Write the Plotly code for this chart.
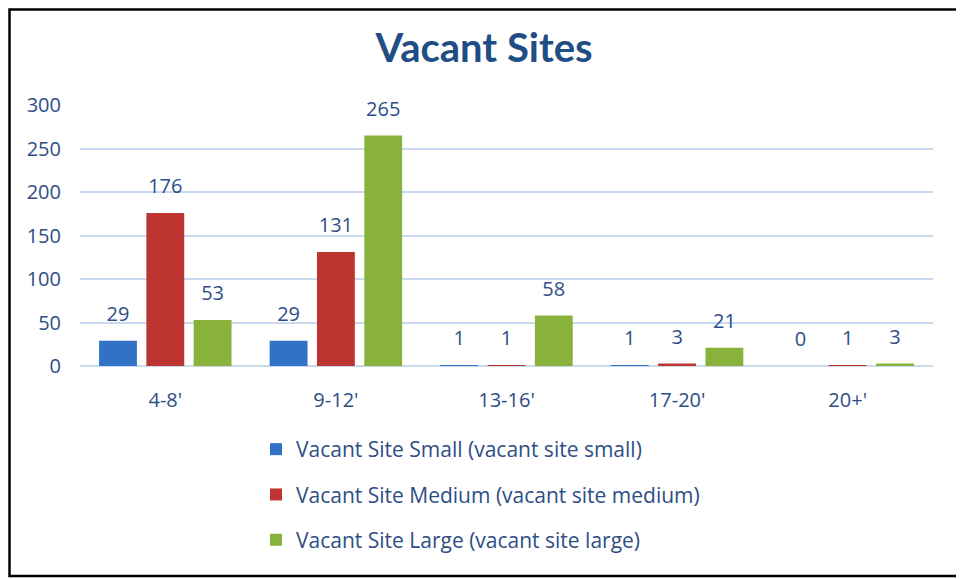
import plotly.graph_objects as go

categories = ["4-8'", "9-12'", "13-16'", "17-20'", "20+'"]
series_names = [
    "Vacant Site Small (vacant site small)",
    "Vacant Site Medium (vacant site medium)",
    "Vacant Site Large (vacant site large)",
]
small = [29, 29, 1, 1, 0]
medium = [176, 131, 1, 3, 1]
large = [53, 265, 58, 21, 3]
colors = ["#3272C6", "#BE3431", "#89B23C"]

text_color = "#2E4E86"
fig = go.Figure()
for i, (name, vals) in enumerate(zip(series_names, [small, medium, large])):
    fig.add_trace(go.Bar(
        x=categories, y=vals, name=name,
        marker=dict(color=colors[i], line=dict(width=0)),
        legendgroup=f"g{i}", hoverinfo="x+y",
    ))
for i, vals in enumerate([small, medium, large]):
    fig.add_trace(go.Scatter(
        x=categories, y=vals, mode="markers+text",
        marker=dict(size=22, color="rgba(0,0,0,0)"),
        text=[str(v) for v in vals], textposition="top center",
        textfont=dict(size=20, color=text_color, family="Open Sans"),
        cliponaxis=False, showlegend=False, hoverinfo="skip",
    ))

# page has an 8px body margin; layout is expressed in figure pixels
W, H = 956, 571
L, R, T, B = 72, 31, 97, 213
pw, ph = W - L - R, H - T - B

def px(x):
    return (x - L) / pw

def py(y):
    return (H - B - y) / ph

fig.update_layout(
    width=W, height=H,
    margin=dict(l=L, r=R, t=T, b=B),
    paper_bgcolor="white", plot_bgcolor="white",
    barmode="group", bargap=0.168, bargroupgap=0.2,
    scattermode="group", scattergap=0.168,
    title=dict(text="<b>Vacant Sites</b>", x=px(476), xanchor="center",
               xref="paper", y=1 - 40 / H, yanchor="middle",
               font=dict(size=40, color="#1F4E84", family="Lato")),
    font=dict(family="Open Sans", color=text_color),
    xaxis=dict(showgrid=False, showline=False, zeroline=False,
               ticks="outside", ticklen=16, tickcolor="rgba(0,0,0,0)",
               tickfont=dict(size=20, color=text_color)),
    yaxis=dict(range=[0, 300], dtick=50, showgrid=True, gridcolor="#C9DAF0",
               gridwidth=2, zeroline=True, zerolinecolor="#C9DAF0", zerolinewidth=2,
               showline=False, tickfont=dict(size=20, color=text_color),
               ticks="outside", ticklen=14, tickcolor="rgba(0,0,0,0)"),
    showlegend=True,
    legend=dict(x=px(248), y=py(421), xanchor="left", yanchor="top",
                orientation="v", traceorder="grouped", tracegroupgap=15,
                font=dict(size=21, color=text_color, family="Open Sans"),
                itemwidth=30),
    shapes=[dict(type="rect", xref="paper", yref="paper",
                 x0=px(1.5), x1=px(953), y0=py(568), y1=py(1.5),
                 line=dict(color="black", width=2.5), layer="above")],
)

fig.write_html("out.html")
